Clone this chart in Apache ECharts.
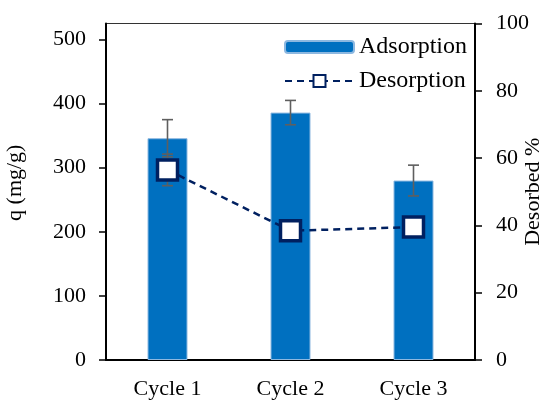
<!DOCTYPE html>
<html>
<head>
<meta charset="utf-8">
<script src="https://cdn.jsdelivr.net/npm/echarts@6/dist/echarts.min.js"></script>
<style>html,body{margin:0;padding:0;background:#fff}#c{width:547px;height:401px}</style>
</head>
<body>
<div id="c"></div>
<script>
var categories = ['Cycle 1', 'Cycle 2', 'Cycle 3'];
var adsorption = [346, 386, 280];
var adsorptionErr = [29, 19, 24];
var desorption = [56.5, 38.4, 39.5];
var desorptionErr = [4.7, 2, 2];
var leftTicks = [0, 100, 200, 300, 400, 500];

var FONT = 'Liberation Serif';
var chart = echarts.init(document.getElementById('c'), null, {renderer: 'canvas'});

function errSeries(name, vals, errs, yIdx, z) {
  return {
    name: name, type: 'custom', yAxisIndex: yIdx, z: z, silent: true,
    data: vals.map(function (v, i) { return [i, v - errs[i], v + errs[i]]; }),
    renderItem: function (params, api) {
      var lo = api.coord([api.value(0), api.value(1)]);
      var hi = api.coord([api.value(0), api.value(2)]);
      var hw = 5.5;
      var st = {stroke: '#5f5f5f', lineWidth: 1.6};
      return {type: 'group', children: [
        {type: 'line', shape: {x1: lo[0], y1: lo[1], x2: hi[0], y2: hi[1]}, style: st},
        {type: 'line', shape: {x1: lo[0] - hw, y1: lo[1], x2: lo[0] + hw, y2: lo[1]}, style: st},
        {type: 'line', shape: {x1: hi[0] - hw, y1: hi[1], x2: hi[0] + hw, y2: hi[1]}, style: st}
      ]};
    }
  };
}

chart.setOption({
  animation: false,
  grid: {left: 106, right: 72, top: 23.5, bottom: 41, show: true, borderColor: '#333', borderWidth: 1, containLabel: false, outerBoundsMode: 'none'},
  legend: [
    {data: ['Adsorption'], left: 279, top: 30, itemWidth: 69, itemHeight: 12, itemGap: 0, itemTextGap: 7, textStyle: {fontFamily: FONT, fontSize: 24, color: '#000'}},
    {data: ['Desorption'], left: 279, top: 64, itemWidth: 69, itemHeight: 15, itemGap: 0, itemTextGap: 7, textStyle: {fontFamily: FONT, fontSize: 24, color: '#000'}}
  ],
  xAxis: {
    type: 'category', data: categories, boundaryGap: true,
    axisLine: {lineStyle: {color: '#000', width: 2}},
    axisTick: {show: false},
    axisLabel: {fontFamily: FONT, fontSize: 22, color: '#000', margin: 18}
  },
  yAxis: [
    {
      type: 'value', min: 0, max: 525, position: 'left',
      name: 'q (mg/g)', nameLocation: 'middle', nameGap: 80, nameRotate: 90, nameMoveOverlap: false,
      nameTextStyle: {fontFamily: FONT, fontSize: 22, color: '#000', padding: [0, 0, 0, 18]},
      axisLine: {show: true, lineStyle: {color: '#000', width: 2}},
      axisTick: {show: true, inside: false, length: 7, customValues: leftTicks, lineStyle: {color: '#000', width: 1.5}},
      axisLabel: {fontFamily: FONT, fontSize: 22, color: '#000', margin: 20, customValues: leftTicks},
      splitLine: {show: false}
    },
    {
      type: 'value', min: 0, max: 100, interval: 20, position: 'right',
      name: 'Desorbed %', nameLocation: 'middle', nameGap: 47, nameRotate: 90, nameMoveOverlap: false,
      nameTextStyle: {fontFamily: FONT, fontSize: 22, color: '#000'},
      axisLine: {show: true, lineStyle: {color: '#000', width: 2}},
      axisTick: {show: true, inside: false, length: 7, lineStyle: {color: '#000', width: 1.5}},
      axisLabel: {fontFamily: FONT, fontSize: 22, color: '#000', margin: 21},
      splitLine: {show: false}
    }
  ],
  series: [
    {
      name: 'Adsorption', type: 'bar', data: adsorption, barWidth: 40, z: 2,
      itemStyle: {color: '#0070C0', borderColor: '#8db8e0', borderWidth: 1}
    },
    errSeries('adsErr', adsorption, adsorptionErr, 0, 3),
    errSeries('desErr', desorption, desorptionErr, 1, 4),
    {
      name: 'Desorption', type: 'line', yAxisIndex: 1, data: desorption, z: 5,
      symbol: 'rect', symbolSize: 20,
      lineStyle: {color: '#002060', width: 2.5, type: [7, 5]},
      itemStyle: {color: '#fff', borderColor: '#002060', borderWidth: 3.5}
    }
  ]
});
</script>
</body>
</html>
